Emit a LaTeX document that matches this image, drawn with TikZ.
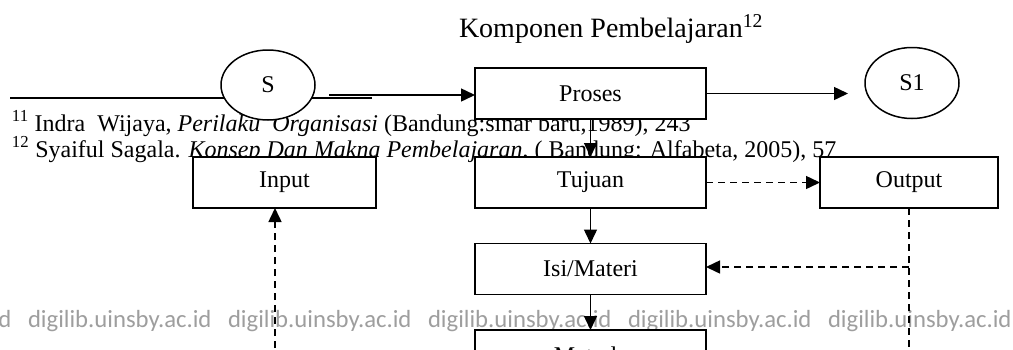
\documentclass[tikz,border=0pt]{standalone}
\usepackage{fontspec}
\setmainfont{Liberation Serif}
\newfontfamily\wmfont{Carlito}
\usetikzlibrary{arrows.meta,shapes.geometric}
\begin{document}
\begin{tikzpicture}[x=1pt,y=-1pt,
  every node/.style={inner sep=0pt,outer sep=0pt},
  bx/.style={draw,line width=1.6pt,fill=white,rectangle,minimum height=51pt,font=\fontsize{24}{26}\selectfont},
  ov/.style={draw,line width=1.5pt,fill=white,ellipse,minimum width=94pt,minimum height=70pt,font=\fontsize{24}{26}\selectfont},
  ln/.style={line width=1.5pt},
  arr/.style={line width=1.5pt,-{Triangle[length=14pt,width=13pt]}},
  darr/.style={arr,dash pattern=on 7pt off 5pt},
  dln/.style={ln,dash pattern=on 7pt off 5pt},
  fn/.style={anchor=base west,font=\fontsize{24}{26}\selectfont},
  wm/.style={anchor=base west,text=black!38,font=\wmfont\fontsize{24.7}{26}\selectfont}]
\clip (0,0) rectangle (1013,349);
\fill[white] (0,0) rectangle (1013,349);
% watermark
\foreach \i/\xx in {0/-172,1/28,2/228,3/428,4/628,5/828}{
  \node[wm] (wm\i) at (\xx,327) {digilib.uinsby.ac.id};
}
% title
\node[anchor=base west,font=\fontsize{28}{30}\selectfont] (title) at (459,37) {Komponen Pembelajaran\textsuperscript{12}};
% footnotes
\node[fn] (fn1) at (12,131) {\textsuperscript{11} Indra\ \ Wijaya, \textit{Perilaku\ \ Organisasi} (Bandung:sinar baru,1989), 243};
\node[fn] (fn2) at (12,157) {\textsuperscript{12} Syaiful Sagala. \textit{Konsep Dan Makna Pembelajaran}, ( Bandung: Alfabeta, 2005), 57};
% input line
\coordinate (la) at (10,98);
\coordinate (lb) at (372,98);
\draw[ln] (la) -- (lb);
\node[ov] (S) at (268,85) {S};
\coordinate (c1) at (329,95);
% boxes
\node[bx,minimum width=231pt] (Proses) at (590.5,93.5) {Proses};
\node[ov,minimum height=71pt] (S1) at (912,83) {S1};
\node[bx,minimum width=183pt] (Input) at (284.5,182.5) {Input};
\node[bx,minimum width=231pt] (Tujuan) at (590.5,182.5) {Tujuan};
\node[bx,minimum width=178pt] (Output) at (909,182.5) {Output};
\node[bx,minimum width=231pt] (Isi) at (590.5,269) {Isi/Materi};
\node[bx,minimum width=231pt] (Metode) at (590.5,355.5) {Metode};
% connectors
\draw[arr] (c1) -- (c1 -| Proses.west);
\coordinate (s1in) at (848,96);
\draw[arr] (Proses.east) -- (Proses.east -| s1in);
\draw[arr] (Proses.south) -- (Tujuan.north);
\draw[darr] (Tujuan.east) -- (Output.west);
\draw[arr] (Tujuan.south) -- (Isi.north);
\draw[arr] (Isi.south) -- (Metode.north);
\coordinate (ob) at (909,360);
\coordinate (oj) at (909,267);
\draw[dln] (Output.south) -- (ob);
\draw[darr] (oj) -- (oj -| Isi.east);
\coordinate (ib) at (275,360);
\draw[darr] (ib) -- (ib |- Input.south);
\end{tikzpicture}
\end{document}
